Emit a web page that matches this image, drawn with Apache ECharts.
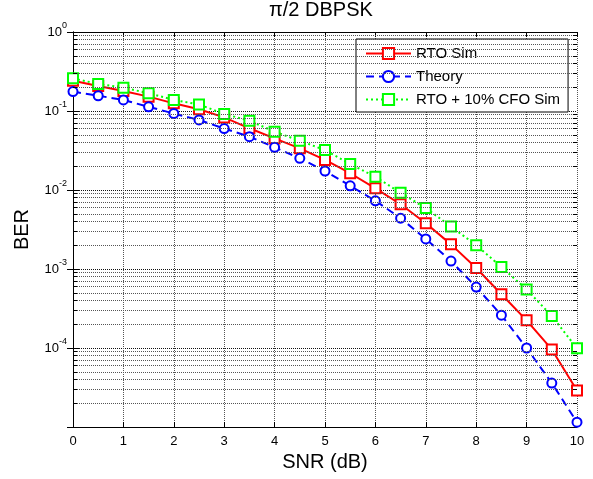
<!DOCTYPE html>
<html>
<head>
<meta charset="utf-8">
<script src="https://cdn.jsdelivr.net/npm/echarts@6/dist/echarts.min.js"></script>
<style>
  html, body { margin: 0; padding: 0; background: #fff; }
  #chart { width: 593px; height: 479px; }
</style>
</head>
<body>
<div id="chart"></div>
<script>
// SNR points (dB)
const snr = [0, 0.5, 1, 1.5, 2, 2.5, 3, 3.5, 4, 4.5, 5, 5.5, 6, 6.5, 7, 7.5, 8, 8.5, 9, 9.5, 10];

// BER values
const rtoSim = [0.242, 0.207, 0.179, 0.152, 0.125, 0.105, 0.083, 0.0604, 0.045, 0.0337, 0.024,
  0.0163, 0.0105, 0.0066, 0.0038, 0.00205, 0.00103, 0.00048, 0.000224, 0.000096, 0.000029];
const theory = [0.176, 0.156, 0.138, 0.113, 0.093, 0.077, 0.060, 0.0473, 0.0347, 0.0252, 0.0174,
  0.0113, 0.0073, 0.0044, 0.0024, 0.00126, 0.00059, 0.00026, 0.0001, 0.000036, 0.0000115];
const cfoSim = [0.259, 0.22, 0.197, 0.168, 0.138, 0.121, 0.0916, 0.0754, 0.0547, 0.042, 0.032,
  0.0213, 0.0147, 0.0092, 0.0059, 0.00345, 0.002, 0.00106, 0.00055, 0.000254, 0.000099];

const seriesNames = ['RTO Sim', 'Theory', 'RTO + 10% CFO Sim'];

// log axis minor grid (2..9 in each decade)
const decades = [1e-5, 1e-4, 1e-3, 1e-2, 1e-1];
const minorSteps = [2, 3, 4, 5, 6, 7, 8, 9];
const minorVals = [];
decades.forEach(d => minorSteps.forEach(m => minorVals.push(m * d)));

const font = 'Liberation Sans, Arial, sans-serif';

function pair(v, x0, x1) {
  return [{ coord: [x0, v] }, { coord: [x1, v] }];
}

let gridMarks = [];
minorVals.forEach(v => {
  gridMarks.push({ yAxis: v, lineStyle: { color: '#555', type: 'dotted', width: 1 } });
});
let tickMarks = [];
minorVals.forEach(v => {
  tickMarks.push(pair(v, 0, 0.08));
  tickMarks.push(pair(v, 9.92, 10));
});

const chart = echarts.init(document.getElementById('chart'));

function dataOf(arr) {
  return snr.map((x, i) => [x, arr[i]]);
}

const option = {
  animation: false,
  backgroundColor: '#fff',
  title: {
    text: 'π/2 DBPSK',
    left: 269,
    top: 0,
    padding: 0,
    textStyle: { fontFamily: font, fontSize: 20, fontWeight: 'normal', color: '#000' }
  },
  legend: {
    data: seriesNames,
    orient: 'vertical',
    left: 356,
    top: 39,
    padding: [7, 8, 5, 9],
    itemGap: 8,
    itemWidth: 45,
    itemHeight: 14,
    borderColor: '#000',
    borderWidth: 1,
    borderRadius: 0,
    backgroundColor: '#fff',
    textStyle: { fontFamily: font, fontSize: 15, color: '#000', lineHeight: 14 }
  },
  grid: { left: 73, right: 16, top: 32, bottom: 52 },
  xAxis: [
    {
      type: 'value', min: 0, max: 10, interval: 1,
      name: 'SNR (dB)', nameLocation: 'middle', nameGap: 24,
      nameTextStyle: { fontFamily: font, fontSize: 20, color: '#000' },
      axisLine: { lineStyle: { color: '#000', width: 1 } },
      axisTick: { inside: true, length: 5, lineStyle: { color: '#000' } },
      axisLabel: { fontFamily: font, fontSize: 13, color: '#000', margin: 8 },
      splitLine: { show: true, lineStyle: { color: '#555', type: 'dotted', width: 1 } }
    },
    {
      type: 'value', position: 'top', min: 0, max: 10, interval: 1,
      axisLine: { lineStyle: { color: '#000', width: 1 } },
      axisTick: { inside: true, length: 5, lineStyle: { color: '#000' } },
      axisLabel: { show: false },
      splitLine: { show: false }
    }
  ],
  yAxis: [
    {
      type: 'log', logBase: 10, min: 1e-5, max: 1,
      name: 'BER', nameLocation: 'middle', nameGap: 41, nameRotate: 90,
      nameTextStyle: { fontFamily: font, fontSize: 20, color: '#000' },
      axisLine: { lineStyle: { color: '#000', width: 1 } },
      axisTick: { inside: true, length: 6, lineStyle: { color: '#000' } },
      axisLabel: {
        margin: 6,
        formatter: function (v) {
          const e = Math.round(Math.log10(v));
          if (e === -5) return '';
          return '{b|10}{e|' + e + '}';
        },
        rich: {
          b: { fontFamily: font, fontSize: 13, color: '#000', lineHeight: 13, verticalAlign: 'middle' },
          e: { fontFamily: font, fontSize: 9, color: '#000', lineHeight: 10, verticalAlign: 'middle', padding: [0, 0, 12, 0] }
        }
      },
      splitLine: { show: true, lineStyle: { color: '#111', type: 'dotted', width: 1 } }
    },
    {
      type: 'log', logBase: 10, min: 1e-5, max: 1, position: 'right',
      axisLine: { lineStyle: { color: '#000', width: 1 } },
      axisTick: { inside: true, length: 6, lineStyle: { color: '#000' } },
      axisLabel: { show: false },
      splitLine: { show: false }
    }
  ],
  series: [
    {
      name: 'minor grid', type: 'line', data: [], silent: true, z: 1,
      markLine: {
        silent: true, symbol: 'none', animation: false, precision: 10,
        label: { show: false },
        data: gridMarks
      }
    },
    {
      name: 'minor ticks', type: 'line', data: [], silent: true, z: 5,
      markLine: {
        silent: true, symbol: 'none', animation: false, precision: 10,
        label: { show: false },
        lineStyle: { color: '#000', type: 'solid', width: 1 },
        data: tickMarks
      }
    },
    {
      name: seriesNames[0], type: 'line', data: dataOf(rtoSim), z: 3,
      symbol: 'emptyRect', symbolSize: 10,
      itemStyle: { color: '#ff0000', borderWidth: 2 },
      lineStyle: { color: '#ff0000', width: 2, type: 'solid' }
    },
    {
      name: seriesNames[1], type: 'line', data: dataOf(theory), z: 3,
      symbol: 'emptyCircle', symbolSize: 9,
      itemStyle: { color: '#0000ff', borderWidth: 2 },
      lineStyle: { color: '#0000ff', width: 2, type: [8, 5] }
    },
    {
      name: seriesNames[2], type: 'line', data: dataOf(cfoSim), z: 3,
      symbol: 'emptyRect', symbolSize: 10,
      itemStyle: { color: '#00ff00', borderWidth: 2 },
      lineStyle: { color: '#00ff00', width: 2, type: [2, 3] }
    }
  ]
};

chart.setOption(option);
</script>
</body>
</html>
